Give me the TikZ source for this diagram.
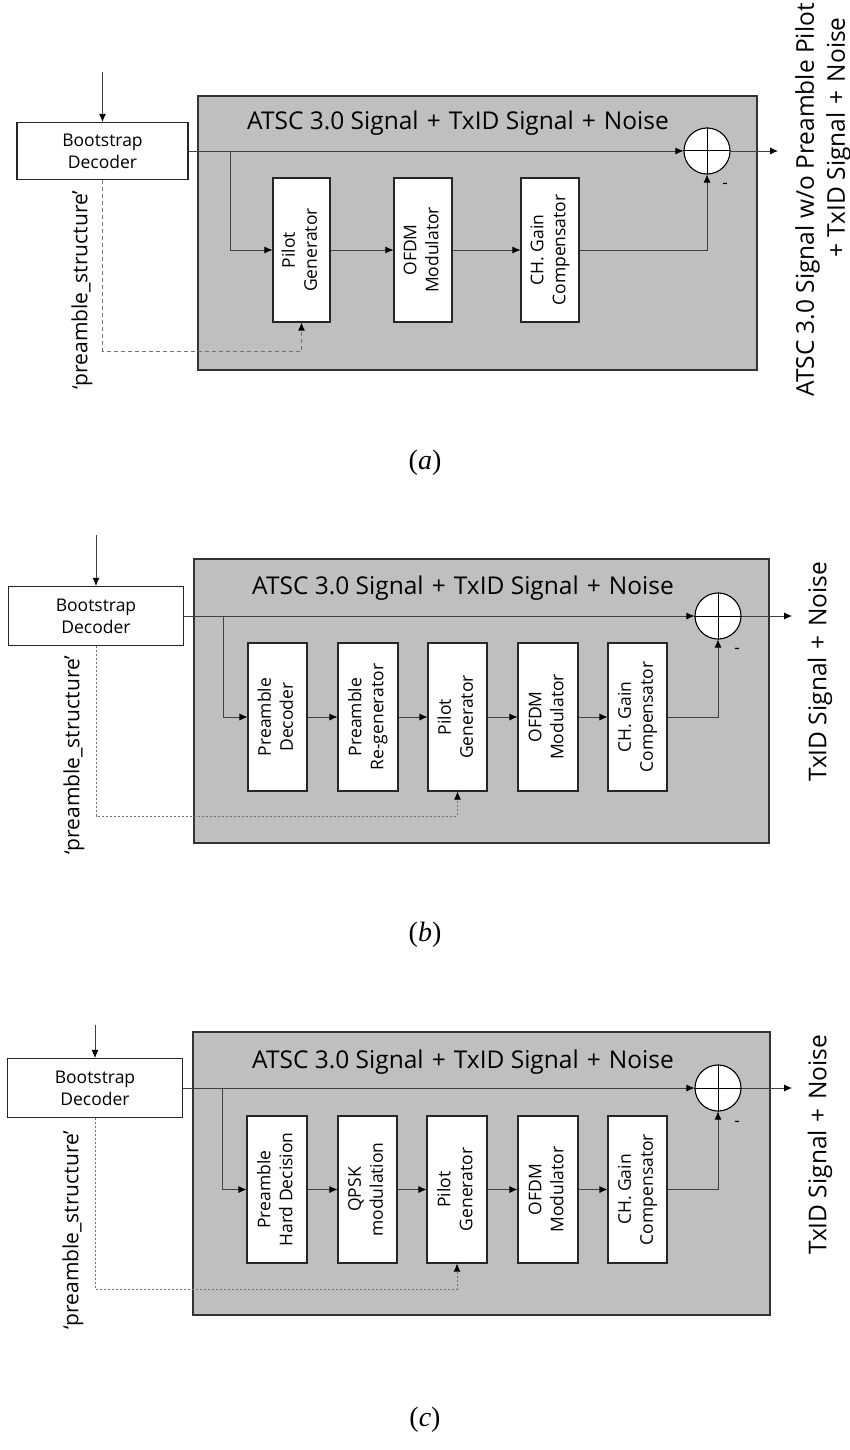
\documentclass[tikz,border=0pt]{standalone}
\usepackage{fontspec}
\setmainfont{Open Sans}
\newfontfamily\capfont{Liberation Serif}
\usetikzlibrary{arrows.meta,calc}
\newcommand{\pl}{\hspace{0.33em}+\hspace{0.33em}}
\begin{document}
\begin{tikzpicture}[x=1pt,y=-1pt,
  blk/.style={draw=black!85,line width=1.1pt,fill=white,inner sep=0pt,font=\fontsize{17.5}{22}\selectfont,align=center},
  gbox/.style={draw=black!80,line width=1.3pt,fill=black!25},
  sig/.style={draw=black!75,line width=0.8pt},
  tip/.style={-{Latex[length=8pt,width=7pt,color=black]}},
  arr/.style={sig,tip},
  dsh/.style={draw=black!55,line width=0.9pt,dash pattern=on 4pt off 3pt,tip},
  dot/.style={draw=black!55,line width=0.9pt,dash pattern=on 2pt off 2pt,tip},
  adder/.style={circle,draw=black,line width=1.1pt,fill=white,minimum size=46pt,inner sep=0pt},
  ttl/.style={font=\fontsize{24.5}{28}\selectfont},
  outl/.style={font=\fontsize{24.5}{31}\selectfont,rotate=90,align=right},
  psl/.style={font=\fontsize{21}{25}\selectfont,rotate=90},
  captxt/.style={font=\capfont\fontsize{28}{32}\selectfont},
  minus/.style={font=\fontsize{17}{19}\selectfont}]
\useasboundingbox (0,0) rectangle (850,1450);

% ================= (a) =================
\node[gbox,minimum width=559pt,minimum height=274pt,inner sep=0pt] (agray) at (477.5,233) {};
\node[ttl] (atitle) at (458,123) {ATSC 3.0 Signal\pl TxID Signal\pl Noise};
\node[blk,minimum width=171pt,minimum height=57pt] (aboot) at (102.5,151) {Bootstrap\\Decoder};
\coordinate (atop) at (102.5,72);
\draw[arr] (atop) -- (aboot.north);
\node[blk,minimum width=57pt,minimum height=144pt] (apil) at (301.5,250) {\rotatebox{90}{\begin{tabular}{c}Pilot\\Generator\end{tabular}}};
\node[blk,minimum width=58pt,minimum height=144pt] (aofdm) at (423,250) {\rotatebox{90}{\begin{tabular}{c}OFDM\\Modulator\end{tabular}}};
\node[blk,minimum width=58pt,minimum height=144pt] (ach) at (550,250) {\rotatebox{90}{\begin{tabular}{c}CH. Gain\\Compensator\end{tabular}}};
\node[adder] (aadd) at (707,151) {};
\draw[line width=1pt] (aadd.north) -- (aadd.south) (aadd.west) -- (aadd.east);
\draw[arr] (aboot.east) -- (aadd.west);
\coordinate (abr) at (230,151);
\draw[arr] (abr) |- (apil.west);
\draw[arr] (apil.east) -- (aofdm.west);
\draw[arr] (aofdm.east) -- (ach.west);
\draw[arr] (ach.east) -| (aadd.south);
\coordinate (aout) at (778,151);
\draw[arr] (aadd.east) -- (aout);
\node[minus] (am) at (725,186) {-};
\coordinate (ad1) at (102.5,351);
\draw[dsh] (aboot.south) -- (ad1) -| (apil.south);
\node[psl] (aps) at (82,290) {‘preamble\_structure’};
\node[outl] (aol) at (823,200) {ATSC 3.0 Signal w/o Preamble Pilot\\+ TxID Signal\pl Noise\hspace*{14pt}};
\node[captxt] (acap) at (425,463) {(\textit{a})};

% ================= (b) =================
\node[gbox,minimum width=575pt,minimum height=284pt,inner sep=0pt] (bgray) at (481.5,701) {};
\node[ttl] (btitle) at (463,588) {ATSC 3.0 Signal\pl TxID Signal\pl Noise};
\node[blk,minimum width=175pt,minimum height=59pt] (bboot) at (96,616) {Bootstrap\\Decoder};
\coordinate (btop) at (96,535);
\draw[arr] (btop) -- (bboot.north);
\node[blk,minimum width=59pt,minimum height=148pt] (bpd) at (277.5,717) {\rotatebox{90}{\begin{tabular}{c}Preamble\\Decoder\end{tabular}}};
\node[blk,minimum width=60pt,minimum height=148pt] (bpr) at (368,717) {\rotatebox{90}{\begin{tabular}{c}Preamble\\Re-generator\end{tabular}}};
\node[blk,minimum width=59pt,minimum height=148pt] (bpil) at (457.5,717) {\rotatebox{90}{\begin{tabular}{c}Pilot\\Generator\end{tabular}}};
\node[blk,minimum width=60pt,minimum height=148pt] (bofdm) at (548,717) {\rotatebox{90}{\begin{tabular}{c}OFDM\\Modulator\end{tabular}}};
\node[blk,minimum width=59pt,minimum height=148pt] (bch) at (637.5,717) {\rotatebox{90}{\begin{tabular}{c}CH. Gain\\Compensator\end{tabular}}};
\node[adder] (badd) at (718,616) {};
\draw[line width=1pt] (badd.north) -- (badd.south) (badd.west) -- (badd.east);
\draw[arr] (bboot.east) -- (badd.west);
\coordinate (bbr) at (223,616);
\draw[arr] (bbr) |- (bpd.west);
\draw[arr] (bpd.east) -- (bpr.west);
\draw[arr] (bpr.east) -- (bpil.west);
\draw[arr] (bpil.east) -- (bofdm.west);
\draw[arr] (bofdm.east) -- (bch.west);
\draw[arr] (bch.east) -| (badd.south);
\coordinate (bout) at (792,616);
\draw[arr] (badd.east) -- (bout);
\node[minus] (bm) at (737,651) {-};
\coordinate (bd1) at (96,816);
\draw[dot] (bboot.south) -- (bd1) -| (bpil.south);
\node[psl] (bps) at (74,755) {‘preamble\_structure’};
\node[outl] (bol) at (820,672) {TxID Signal\pl Noise};
\node[captxt] (bcap) at (425,935) {(\textit{b})};

% ================= (c) =================
\node[gbox,minimum width=577pt,minimum height=283pt,inner sep=0pt] (cgray) at (481.5,1173.5) {};
\node[ttl] (ctitle) at (463,1062) {ATSC 3.0 Signal\pl TxID Signal\pl Noise};
\node[blk,minimum width=175pt,minimum height=59pt] (cboot) at (95,1088) {Bootstrap\\Decoder};
\coordinate (ctop) at (95,1025);
\draw[arr] (ctop) -- (cboot.north);
\node[blk,minimum width=60pt,minimum height=147pt] (cph) at (277,1189.5) {\rotatebox{90}{\begin{tabular}{c}Preamble\\Hard Decision\end{tabular}}};
\node[blk,minimum width=59pt,minimum height=147pt] (cqp) at (367.5,1189.5) {\rotatebox{90}{\begin{tabular}{c}QPSK\\modulation\end{tabular}}};
\node[blk,minimum width=60pt,minimum height=147pt] (cpil) at (457,1189.5) {\rotatebox{90}{\begin{tabular}{c}Pilot\\Generator\end{tabular}}};
\node[blk,minimum width=60pt,minimum height=147pt] (cofdm) at (548,1189.5) {\rotatebox{90}{\begin{tabular}{c}OFDM\\Modulator\end{tabular}}};
\node[blk,minimum width=59pt,minimum height=147pt] (cch) at (637.5,1189.5) {\rotatebox{90}{\begin{tabular}{c}CH. Gain\\Compensator\end{tabular}}};
\node[adder] (cadd) at (718,1088) {};
\draw[line width=1pt] (cadd.north) -- (cadd.south) (cadd.west) -- (cadd.east);
\draw[arr] (cboot.east) -- (cadd.west);
\coordinate (cbr) at (222,1088);
\draw[arr] (cbr) |- (cph.west);
\draw[arr] (cph.east) -- (cqp.west);
\draw[arr] (cqp.east) -- (cpil.west);
\draw[arr] (cpil.east) -- (cofdm.west);
\draw[arr] (cofdm.east) -- (cch.west);
\draw[arr] (cch.east) -| (cadd.south);
\coordinate (cout) at (792,1088);
\draw[arr] (cadd.east) -- (cout);
\node[minus] (cm) at (737,1124) {-};
\coordinate (cd1) at (95,1289);
\draw[dot] (cboot.south) -- (cd1) -| (cpil.south);
\node[psl] (cps) at (73,1230) {‘preamble\_structure’};
\node[outl] (col) at (820,1145) {TxID Signal\pl Noise};
\node[captxt] (ccap) at (425,1420) {(\textit{c})};
\end{tikzpicture}
\end{document}
